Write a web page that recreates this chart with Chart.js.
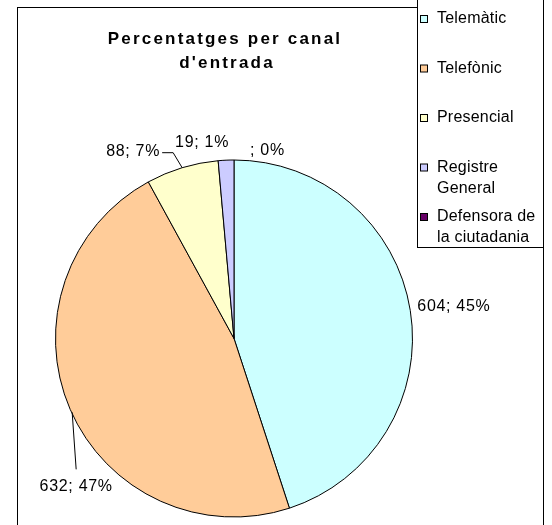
<!DOCTYPE html>
<html>
<head>
<meta charset="utf-8">
<title>Percentatges per canal d'entrada</title>
<script src="https://cdn.jsdelivr.net/npm/chart.js@4/dist/chart.umd.min.js"></script>
<style>
body { margin:0; background:#ffffff; }
#wrap { width:552px; height:525px; }
</style>
</head>
<body>
<div id="wrap"><canvas id="myChart" width="552" height="525"></canvas></div>
<script>
var labels = ['Telemàtic', 'Telefònic', 'Presencial', 'Registre General', 'Defensora de la ciutadania'];
var values = [604, 632, 88, 19, 0];
var pctText = ['45%', '47%', '7%', '1%', '0%'];
var colors = ['#CCFFFF', '#FFCC99', '#FFFFCC', '#CCCCFF', '#660066'];
var titleLines = ['Percentatges per canal', "d'entrada"];

// where each data label sits, relative to the point on the rim at the slice middle
var labelPos = [
  { dx: 7, dy: -4, align: 'left' },
  { dx: 6, dy: 77, align: 'center', leader: [[2, 3], [6, 60]] },
  { dx: -22, dy: -16, align: 'right', leader: [[0, 0], [-9, -15], [-20, -15]] },
  { dx: -24, dy: -18, align: 'center' },
  { dx: 16, dy: -9, align: 'left' }
];

var framePlugin = {
  id: 'frame',
  afterDraw: function (chart) {
    var ctx = chart.ctx;
    var meta = chart.getDatasetMeta(0);
    ctx.save();
    // outer chart border (left, top, right)
    ctx.fillStyle = '#000000';
    ctx.fillRect(17, 7, 1, 520);
    ctx.fillRect(17, 7, 527, 1);
    ctx.fillRect(543, 7, 1, 520);

    ctx.strokeStyle = '#000000';
    ctx.lineWidth = 1;

    // title
    ctx.font = 'bold 17px "Liberation Sans", Arial, sans-serif';
    ctx.letterSpacing = '2.2px';
    ctx.textAlign = 'center';
    ctx.textBaseline = 'middle';
    ctx.fillText(titleLines[0], 225, 39);
    ctx.fillText(titleLines[1], 227, 63);

    // data labels
    ctx.font = '16px "Liberation Sans", Arial, sans-serif';
    ctx.letterSpacing = '0.7px';
    meta.data.forEach(function (arc, i) {
      var mid = (arc.startAngle + arc.endAngle) / 2;
      var ax = arc.x + Math.cos(mid) * arc.outerRadius;
      var ay = arc.y + Math.sin(mid) * arc.outerRadius;
      var p = labelPos[i];
      if (p.leader) {
        ctx.beginPath();
        p.leader.forEach(function (pt, k) {
          if (k === 0) ctx.moveTo(ax + pt[0], ay + pt[1]);
          else ctx.lineTo(ax + pt[0], ay + pt[1]);
        });
        ctx.stroke();
      }
      ctx.textAlign = p.align;
      var txt = (values[i] ? values[i] : '') + '; ' + pctText[i];
      ctx.fillText(txt, ax + p.dx, ay + p.dy);
    });

    // legend box
    ctx.letterSpacing = '0.2px';
    ctx.fillStyle = '#ffffff';
    ctx.fillRect(417, -2, 126, 250);
    ctx.strokeRect(417.5, -2.5, 126, 250);
    var ds = chart.data.datasets[0];
    var y = 19;
    ctx.textAlign = 'left';
    chart.data.labels.forEach(function (lab, i) {
      ctx.fillStyle = ds.backgroundColor[i];
      ctx.fillRect(420.5, y - 3.5, 7, 7);
      ctx.strokeRect(420.5, y - 3.5, 7, 7);
      ctx.fillStyle = '#000000';
      var words = lab.split(' ');
      var line = '';
      var ly = y;
      words.forEach(function (w) {
        var test = line ? line + ' ' + w : w;
        if (line && ctx.measureText(test).width > 104) {
          ctx.fillText(line, 437, ly);
          line = w;
          ly += 21;
        } else {
          line = test;
        }
      });
      ctx.fillText(line, 437, ly);
      y += 49.5;
    });
    ctx.restore();
  }
};

var ctx = document.getElementById('myChart').getContext('2d');
var chart = new Chart(ctx, {
  type: 'pie',
  data: {
    labels: labels,
    datasets: [{
      data: values,
      backgroundColor: colors,
      borderColor: '#000000',
      borderWidth: 1
    }]
  },
  options: {
    responsive: false,
    animation: false,
    layout: { padding: { left: 55, right: 139, top: 159, bottom: 7 } },
    plugins: {
      legend: { display: false },
      title: { display: false },
      tooltip: { enabled: false }
    }
  },
  plugins: [framePlugin]
});
</script>
</body>
</html>
